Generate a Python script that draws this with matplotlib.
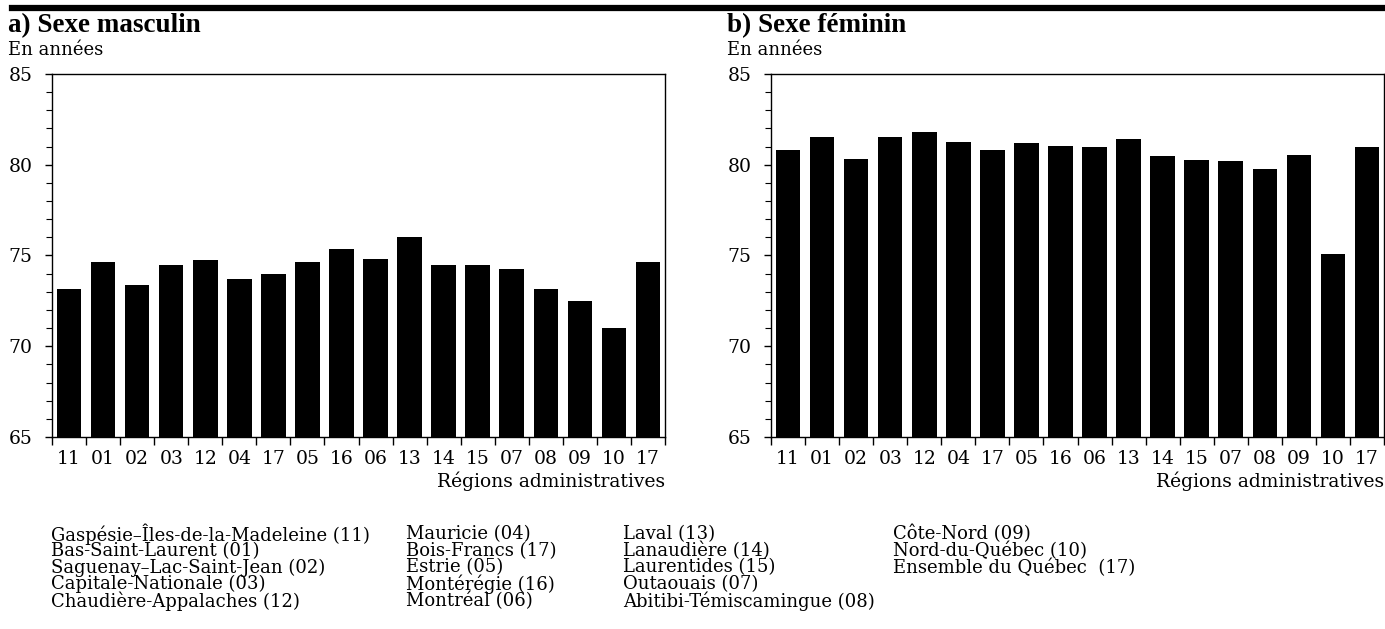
import numpy as np
import matplotlib.pyplot as plt

plt.rcParams['font.family'] = ['DejaVu Serif']

regions = ["11", "01", "02", "03", "12", "04", "17", "05", "16",
           "06", "13", "14", "15", "07", "08", "09", "10", "17"]
hommes = [73.15, 74.63, 73.37, 74.47, 74.76, 73.68, 73.99, 74.63, 75.37,
          74.80, 76.01, 74.47, 74.50, 74.27, 73.17, 72.52, 71.00, 74.63]
femmes = [80.82, 81.55, 80.29, 81.51, 81.81, 81.26, 80.82, 81.20, 81.06,
          80.99, 81.44, 80.46, 80.26, 80.18, 79.76, 80.55, 75.07, 81.00]

legende = [
    ["Gaspésie–Îles-de-la-Madeleine (11)", "Bas-Saint-Laurent (01)",
     "Saguenay–Lac-Saint-Jean (02)", "Capitale-Nationale (03)",
     "Chaudière-Appalaches (12)"],
    ["Mauricie (04)", "Bois-Francs (17)", "Estrie (05)", "Montérégie (16)",
     "Montréal (06)"],
    ["Laval (13)", "Lanaudière (14)", "Laurentides (15)", "Outaouais (07)",
     "Abitibi-Témiscamingue (08)"],
    ["Côte-Nord (09)", "Nord-du-Québec (10)", "Ensemble du Québec  (17)"],
]

W, H = 1385, 629
fig = plt.figure(figsize=(W / 100, H / 100), dpi=100)

# barre noire en haut
fig.add_artist(plt.Line2D([12 / W, 1], [1 - 8 / H, 1 - 8 / H], color='black', lw=4.5))


def panneau(x0, valeurs, titre):
    ax = fig.add_axes([x0 / W, 1 - 437 / H, 613 / W, 363 / H])
    x = np.arange(len(valeurs))
    ax.bar(x, valeurs, width=0.72, color='black')
    ax.set_ylim(65, 85)
    ax.set_xlim(-0.5, len(valeurs) - 0.5)
    ax.set_yticks([65, 70, 75, 80, 85])
    ax.set_yticks(np.arange(65, 86, 1), minor=True)
    ax.set_xticks(x)
    ax.set_xticklabels(regions, fontsize=13.5)
    ax.set_xticks(np.arange(-0.5, len(valeurs), 1), minor=True)
    ax.tick_params(axis='x', which='major', length=0, pad=9)
    ax.tick_params(axis='x', which='minor', length=5.5, width=1, direction='out')
    ax.tick_params(axis='y', which='major', length=5, width=1, labelsize=13.5, pad=9)
    ax.tick_params(axis='y', which='minor', length=4, width=0.8)
    for s in ax.spines.values():
        s.set_linewidth(1)
    ax.text(1.0, -0.094, "Régions administratives", transform=ax.transAxes,
            ha='right', va='top', fontsize=13.5)
    fig.text((x0 - 44) / W, 1 - 26 / H, titre, fontsize=19.5,
             family='Liberation Serif', fontweight='bold',
             ha='left', va='center')
    fig.text((x0 - 44) / W, 1 - 50 / H, "En années", fontsize=13,
             ha='left', va='center')
    return ax


panneau(52, hommes, "a) Sexe masculin")
panneau(771, femmes, "b) Sexe féminin")

cols_x = [51, 406, 623, 893]
for cx, col in zip(cols_x, legende):
    for i, t in enumerate(col):
        fig.text(cx / W, 1 - (534 + 16.7 * i) / H, t, fontsize=13,
                 ha='left', va='center')

fig.savefig("out.png", dpi=100)
